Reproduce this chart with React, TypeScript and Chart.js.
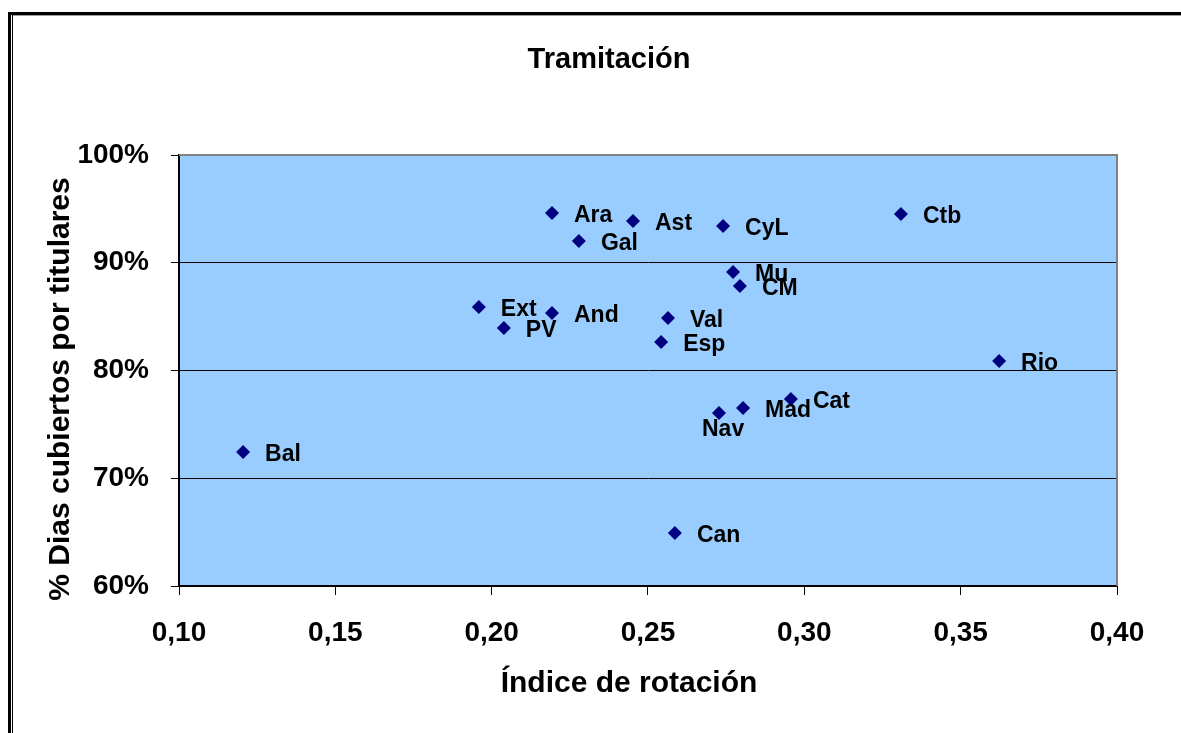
import React, { useEffect, useRef } from "react";
import { Chart, registerables } from "chart.js";

Chart.register(...registerables);

const chartTitle = "Tramitación";
const xAxisTitle = "Índice de rotación";
const yAxisTitle = "% Dias cubiertos por titulares";

const regions = ["Ara", "Ast", "CyL", "Ctb", "Gal", "Mu", "CM", "Ext", "And", "PV", "Val", "Esp", "Rio", "Cat", "Mad", "Nav", "Bal", "Can"];
const rotationIndex = [0.2193, 0.2452, 0.274, 0.3309, 0.2279, 0.2772, 0.2794, 0.1959, 0.2193, 0.2039, 0.2564, 0.2542, 0.3623, 0.2957, 0.2804, 0.2727, 0.1205, 0.2586];
const coveredDays = [0.9462, 0.9387, 0.9341, 0.9452, 0.9202, 0.8914, 0.8784, 0.8589, 0.8534, 0.8394, 0.8487, 0.8265, 0.8088, 0.7735, 0.7652, 0.7606, 0.7244, 0.6492];

const xTicks = [0.1, 0.15, 0.2, 0.25, 0.3, 0.35, 0.4];
const yTicks = [0.6, 0.7, 0.8, 0.9, 1.0];

// labels placed below-left of their marker instead of to the right
const labelsBelowLeft = ["Nav"];

const FONT = '"Liberation Sans", Arial, Helvetica, sans-serif';

export default function App() {
  const canvasRef = useRef<HTMLCanvasElement | null>(null);

  useEffect(() => {
    const canvas = canvasRef.current;
    if (!canvas) return;

    const decorations = {
      id: "decorations",
      beforeDraw(chart: any) {
        const { ctx, chartArea } = chart;
        ctx.save();
        ctx.fillStyle = "#ffffff";
        ctx.fillRect(0, 0, chart.width, chart.height);
        ctx.fillStyle = "#99CCFF";
        ctx.fillRect(chartArea.left, chartArea.top, chartArea.right - chartArea.left, chartArea.bottom - chartArea.top);
        ctx.restore();
      },
      beforeDatasetsDraw(chart: any) {
        const { ctx, chartArea } = chart;
        ctx.save();
        ctx.strokeStyle = "#808080";
        ctx.lineWidth = 2;
        ctx.beginPath();
        ctx.moveTo(chartArea.left, chartArea.top);
        ctx.lineTo(chartArea.right, chartArea.top);
        ctx.lineTo(chartArea.right, chartArea.bottom);
        ctx.stroke();
        ctx.restore();
      },
      afterDraw(chart: any) {
        const { ctx } = chart;
        ctx.save();
        // outer frame
        ctx.fillStyle = "#000";
        ctx.fillRect(8, 12, chart.width - 8, 3);
        ctx.fillRect(8, 12, 3, chart.height - 12);
        ctx.fillRect(12, 15, 1, chart.height - 15);
        ctx.fillStyle = "#a0a0a0";
        ctx.fillRect(13, 15, chart.width - 13, 1);
        // titles
        ctx.fillStyle = "#000";
        ctx.textAlign = "center";
        ctx.textBaseline = "middle";
        ctx.font = `bold 29px ${FONT}`;
        ctx.fillText(chartTitle, 609, 60);
        ctx.font = `bold 30px ${FONT}`;
        ctx.fillText(xAxisTitle, 629, 684);
        ctx.translate(61, 389);
        ctx.rotate(-Math.PI / 2);
        ctx.fillText(yAxisTitle, 0, 0);
        ctx.restore();
      },
      afterDatasetsDraw(chart: any) {
        const { ctx } = chart;
        const meta = chart.getDatasetMeta(0);
        ctx.save();
        ctx.fillStyle = "#000";
        ctx.font = `bold 23px ${FONT}`;
        ctx.textBaseline = "middle";
        ctx.textAlign = "left";
        meta.data.forEach((pt: any, i: number) => {
          const name = regions[i];
          if (labelsBelowLeft.includes(name)) {
            ctx.fillText(name, pt.x - 17, pt.y + 17);
          } else {
            ctx.fillText(name, pt.x + 22, pt.y + 3);
          }
        });
        ctx.restore();
      },
    };

    const chart = new Chart(canvas, {
      type: "scatter",
      data: {
        datasets: [
          {
            label: "Tramitación",
            data: rotationIndex.map((x, i) => ({ x, y: coveredDays[i] })),
            backgroundColor: "#000080",
            borderColor: "#000080",
            borderWidth: 0,
            pointStyle: "rectRot",
            pointRadius: 7,
            pointHoverRadius: 7,
          },
        ],
      },
      options: {
        responsive: false,
        animation: false,
        events: [],
        layout: { padding: { left: 0, top: 155, right: 64, bottom: 0 } },
        plugins: {
          legend: { display: false },
          tooltip: { enabled: false },
          title: { display: false },
        },
        scales: {
          x: {
            type: "linear",
            min: 0.1,
            max: 0.4,
            afterFit(scale: any) {
              scale.height = 147;
            },
            afterBuildTicks(scale: any) {
              scale.ticks = xTicks.map((v) => ({ value: v }));
            },
            grid: {
              display: true,
              drawOnChartArea: false,
              drawTicks: true,
              tickLength: 9,
              tickColor: "#000",
              color: "#000",
            },
            border: { display: true, color: "#000", width: 2 },
            ticks: {
              color: "#000",
              padding: 21,
              font: { family: FONT, size: 28, weight: "bold" },
              maxRotation: 0,
              callback: (v: any) => Number(v).toFixed(2).replace(".", ","),
            },
          },
          y: {
            type: "linear",
            min: 0.6,
            max: 1.0,
            afterFit(scale: any) {
              scale.width = 179;
            },
            afterBuildTicks(scale: any) {
              scale.ticks = yTicks.map((v) => ({ value: v }));
            },
            grid: {
              display: true,
              drawOnChartArea: true,
              drawTicks: true,
              tickLength: 8,
              tickColor: "#000",
              color: (c: any) => (c.tick && Math.abs(c.tick.value - 1) < 1e-9 ? "rgba(0,0,0,0)" : "#000"),
              lineWidth: 1,
            },
            border: { display: true, color: "#000", width: 2 },
            ticks: {
              color: "#000",
              padding: 22,
              font: { family: FONT, size: 28, weight: "bold" },
              callback: (v: any) => `${Math.round(Number(v) * 100)}%`,
            },
          },
        },
      },
      plugins: [decorations],
    });

    return () => chart.destroy();
  }, []);

  return (
    <div style={{ position: "fixed", left: 0, top: 0, width: 1181, height: 733, background: "#fff" }}>
      <canvas ref={canvasRef} width={1181} height={733} style={{ display: "block", width: 1181, height: 733 }} />
    </div>
  );
}
